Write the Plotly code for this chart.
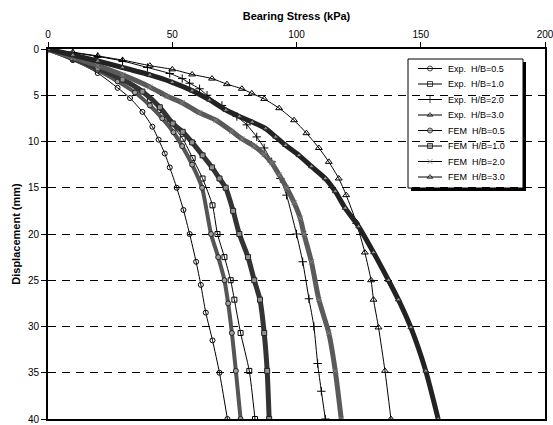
import plotly.graph_objects as go

# Load-settlement data: bearing stress (kPa) against footing displacement (mm)
exp05_stress = [0, 10, 20, 28, 33, 38, 42, 44.5, 47, 49, 51.8, 54.5, 57, 59.6, 61.5, 63.5, 66.2, 69, 72.2]
exp05_disp = [0, 1.2, 2.6, 4.2, 5.3, 6.8, 8.4, 9.8, 11.3, 12.8, 15, 17.4, 20, 23, 25.5, 28.5, 31.5, 35, 40]

exp10_stress = [0, 10, 20, 30, 36, 41, 45, 49, 54.2, 58.2, 62.2, 66.2, 68.2, 71, 73.5, 75, 77.5, 81, 83.3]
exp10_disp = [0, 1.0, 2.1, 3.4, 4.4, 5.5, 6.6, 7.9, 9.7, 11.8, 14, 16.9, 20, 22.5, 25, 27.1, 30.7, 34.8, 40]

exp20_stress = [0, 10, 20, 30, 40, 49, 54, 57, 61, 64, 70, 76, 80, 84, 87, 90, 93.5, 96, 100, 102.5, 105, 107, 108.5, 110, 111.6]
exp20_disp = [0, 0.4, 0.8, 1.3, 2.0, 2.65, 3.2, 3.7, 4.3, 5.0, 6.1, 7.3, 8.2, 9.5, 10.7, 12.2, 14, 15.8, 20, 23, 27, 30, 34, 37, 40]

exp30_stress = [0, 10, 20, 30, 41, 50, 58, 66, 72, 78, 82, 87, 93, 99, 104, 109, 113, 117, 120, 124, 127.5, 130, 131, 133, 135.6, 138]
exp30_disp = [0, 0.35, 0.75, 1.2, 1.8, 2.2, 2.75, 3.2, 3.8, 4.3, 4.8, 5.4, 6.4, 7.7, 9.1, 10.7, 12.2, 14, 15.8, 18.7, 22, 25, 27.1, 30.1, 34.8, 40]

fem05_stress = [0, 10, 20, 28, 35, 41, 46, 50.5, 54, 58, 62, 65.6, 68.5, 71, 72.5, 74, 75.6, 77.5]
fem05_disp = [0, 1.1, 2.3, 3.5, 4.7, 6.1, 7.5, 9.0, 10.5, 12.5, 15, 20, 22.5, 25, 27.5, 30.7, 34.8, 40]

fem10_stress = [0, 10, 20, 30, 38, 45, 50.2, 54.2, 58, 62.2, 66, 69, 71.5, 74.5, 77, 80.5, 83, 85.3, 87, 88.2, 89]
fem10_disp = [0, 1.0, 2.1, 3.3, 4.6, 6.3, 8.05, 8.95, 10.1, 11.5, 12.8, 14, 15, 17.5, 20, 22.5, 25, 27.1, 30.7, 34.8, 40]

fem20_stress = [0, 10, 20, 30, 41, 48, 54, 61, 67.6, 74, 78, 83, 87, 90, 93, 96, 99, 101.5, 103, 106, 109, 113, 115.6, 118]
fem20_disp = [0, 0.9, 1.8, 2.8, 4.1, 5.1, 5.8, 6.9, 7.7, 8.9, 9.7, 10.5, 11.4, 12.3, 13.6, 15.0, 16.6, 18.3, 20, 23, 27.1, 30.7, 34.8, 40]

fem30_stress = [0, 10, 20, 30, 41, 50, 58, 65, 71.6, 77, 82.2, 87.6, 91.6, 95.6, 101, 106, 111.6, 115.6, 119.6, 125, 131, 137, 141, 146, 152, 157]
fem30_disp = [0, 0.65, 1.3, 2.0, 2.8, 3.6, 4.5, 5.5, 6.6, 7.3, 7.9, 8.6, 9.5, 10.4, 11.5, 12.7, 14, 15.4, 17.2, 19.2, 22, 25, 27.1, 30.1, 34.8, 40]

x_ticks = [0, 50, 100, 150, 200]
y_ticks = [0, 5, 10, 15, 20, 25, 30, 35, 40]

FONT = "Arial, 'Liberation Sans', sans-serif"

# name, x, y, marker symbol, marker fill, line colour, line width, marker size
series = [
    ("Exp.\u00a0\u00a0H/B=0.5", exp05_stress, exp05_disp, "circle-open", "#000", "#000", 1, 5),
    ("Exp.\u00a0\u00a0H/B=1.0", exp10_stress, exp10_disp, "square-open", "#000", "#000", 1, 5),
    ("Exp.\u00a0\u00a0H/B=2.0", exp20_stress, exp20_disp, "cross-thin-open", "#000", "#000", 1, 6),
    ("Exp.\u00a0\u00a0H/B=3.0", exp30_stress, exp30_disp, "triangle-up-open", "#000", "#000", 1, 6),
    ("FEM\u00a0\u00a0H/B=0.5", fem05_stress, fem05_disp, "circle", "#a0a0a0", "#555555", 4, 5),
    ("FEM\u00a0\u00a0H/B=1.0", fem10_stress, fem10_disp, "square", "#909090", "#333333", 5, 5),
    ("FEM\u00a0\u00a0H/B=2.0", fem20_stress, fem20_disp, "x-thin-open", "#808080", "#5a5a5a", 5, 5),
    ("FEM\u00a0\u00a0H/B=3.0", fem30_stress, fem30_disp, "triangle-up", "#909090", "#222222", 5, 5),
]

fig = go.Figure()

for name, xs, ys, sym, fill, lcol, lw, msize in series:
    is_fem = name.startswith("FEM")
    fig.add_trace(go.Scatter(
        x=xs, y=ys, mode="lines+markers", name=name, showlegend=False,
        line=dict(color=lcol, width=lw, shape="spline", smoothing=0.6),
        marker=dict(symbol=sym, size=msize, color=fill,
                    line=dict(color="#222" if is_fem else "#000", width=1)),
    ))

# Legend panel, laid out in pixel units on an overlay axis pair
PX_L, PX_R, PX_T, PX_B = 48, 545, 49, 419
box_l, box_r, box_t, box_b = 408, 523, 59, 188
row0, row_step = 68.5, 15.5

shapes = [
    dict(type="rect", xref="x2", yref="y2", x0=box_l + 3, x1=box_r + 3, y0=box_t + 3, y1=box_b + 3,
         fillcolor="#000", line=dict(width=0), layer="below"),
    dict(type="rect", xref="x2", yref="y2", x0=box_l, x1=box_r, y0=box_t, y1=box_b,
         fillcolor="#fff", line=dict(color="#000", width=1), layer="below"),
]

annotations = []
for i, (name, xs, ys, sym, fill, lcol, lw, msize) in enumerate(series):
    ry = row0 + i * row_step
    fig.add_trace(go.Scatter(
        x=[418, 430, 442], y=[ry, ry, ry], xaxis="x2", yaxis="y2",
        mode="lines+markers", showlegend=False, hoverinfo="skip",
        line=dict(color="#000", width=1),
        marker=dict(symbol=sym, size=[0, 5, 0], color=fill if name.startswith("FEM") else "#000",
                    line=dict(color="#000", width=1)),
    ))
    annotations.append(dict(
        xref="x2", yref="y2", x=446, y=ry, text=name, showarrow=False,
        xanchor="left", yanchor="middle", font=dict(family=FONT, size=9, color="#000"),
    ))

fig.update_layout(
    width=553, height=425,
    margin=dict(l=PX_L, r=553 - PX_R, t=PX_T, b=425 - PX_B, pad=0, autoexpand=False),
    paper_bgcolor="#fff", plot_bgcolor="#fff",
    font=dict(family=FONT, size=10, color="#000"),
    shapes=shapes, annotations=annotations,
    xaxis=dict(
        side="top", range=[0, 200], tickvals=x_ticks, ticks="outside", ticklen=5,
        tickcolor="#000", tickwidth=1, showgrid=False, zeroline=False,
        showline=True, linecolor="#000", linewidth=2, mirror=True,
        ticklabeloverflow="allow", automargin=False,
        tickfont=dict(family=FONT, size=10),
        title=dict(text="<b>Bearing Stress (kPa)</b>", font=dict(family=FONT, size=11), standoff=6),
    ),
    yaxis=dict(
        range=[40, 0], tickvals=y_ticks, ticks="outside", ticklen=5,
        tickcolor="#000", tickwidth=1, zeroline=False, automargin=False,
        showgrid=True, gridcolor="#000", gridwidth=1, griddash="8px,6px",
        showline=True, linecolor="#000", linewidth=2, mirror=True,
        tickfont=dict(family=FONT, size=10),
        title=dict(text="<b>Displacement (mm)</b>", font=dict(family=FONT, size=11), standoff=5),
    ),
    xaxis2=dict(overlaying="x", range=[PX_L, PX_R], visible=False, fixedrange=True),
    yaxis2=dict(overlaying="y", range=[PX_B, PX_T], visible=False, fixedrange=True),
)

fig.write_html("out.html")
